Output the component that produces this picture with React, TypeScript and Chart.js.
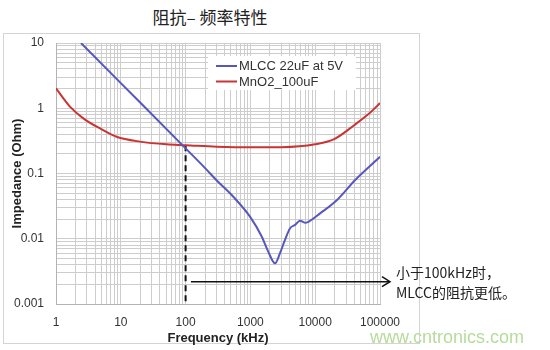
import React, { useEffect, useRef } from "react";
import { Chart, registerables } from "chart.js";

Chart.register(...registerables);

// ---- data ----
const mlccFreq = [2.43, 10, 100, 200, 300, 545, 986, 1494, 1890, 2400, 2860, 3420, 4090, 4880, 5830, 6960, 7830, 11900, 21500, 41100, 100000];
const mlccZ = [10, 2.43, 0.243, 0.121, 0.079, 0.044, 0.0218, 0.0108, 0.0063, 0.0042, 0.006, 0.0096, 0.0145, 0.0163, 0.0189, 0.0176, 0.0182, 0.0245, 0.039, 0.079, 0.18];

const mno2Freq = [1, 1.64, 2.64, 4.77, 8.6, 19.8, 51, 100, 300, 1000, 3000, 10000, 20000, 40000, 70000, 100000];
const mno2Z = [2.02, 1.06, 0.7, 0.49, 0.366, 0.308, 0.28, 0.272, 0.258, 0.252, 0.253, 0.28, 0.34, 0.55, 0.85, 1.2];

const markerFreq = [100, 100];
const markerZ = [0.272, 0.001];

const arrowFreq = [121, 142600];
const arrowZ = [0.0022, 0.0022];

const xTickLabels = ["1", "10", "100", "1000", "10000", "100000"];
const yTickLabels = ["0.001", "0.01", "0.1", "1", "10"];

const seriesLabels = ["MLCC 22uF at 5V", "MnO2_100uF"];
const seriesColors = ["#5757bd", "#c93434"];

const titleText = "阻抗– 频率特性";
const noteLines = ["小于100kHz时，", "MLCC的阻抗更低。"];
const xTitle = "Frequency (kHz)";
const yTitle = "Impedance (Ohm)";

const FONT = "'Liberation Sans', Arial, sans-serif";
const CJK = "'Noto Sans CJK SC', 'Noto Sans', sans-serif";

function decadeGrid(min: number, max: number) {
  const vals: number[] = [];
  const e0 = Math.round(Math.log10(min));
  const e1 = Math.round(Math.log10(max));
  for (let e = e0; e < e1; e++) {
    for (let s = 1; s < 10; s++) vals.push(Number((s * Math.pow(10, e)).toPrecision(6)));
  }
  vals.push(max);
  return vals.map((v) => ({ value: v }));
}

function majorLabel(labels: string[], min: number) {
  return (value: any) => {
    const v = Number(value);
    const l = Math.log10(v);
    if (Math.abs(l - Math.round(l)) < 1e-9) {
      const idx = Math.round(l - Math.log10(min));
      return labels[idx] ?? "";
    }
    return "";
  };
}

const legendPlugin = {
  id: "inlineLegend",
  afterDatasetsDraw(chart: any) {
    const ctx = chart.ctx;
    ctx.save();
    ctx.fillStyle = "#ffffff";
    ctx.fillRect(208, 56, 148, 34);
    const ds = chart.data.datasets.slice(0, 2);
    ds.forEach((d: any, i: number) => {
      const y = 66 + i * 15.5;
      ctx.strokeStyle = d.borderColor;
      ctx.lineWidth = 2;
      ctx.beginPath();
      ctx.moveTo(216, y);
      ctx.lineTo(237, y);
      ctx.stroke();
      ctx.fillStyle = "#333";
      ctx.font = `13px ${FONT}`;
      ctx.textBaseline = "middle";
      ctx.textAlign = "left";
      ctx.fillText(d.label, 239, y + 0.5);
    });
    ctx.restore();
  },
};

const arrowPlugin = {
  id: "arrowHead",
  afterDatasetsDraw(chart: any) {
    const xs = chart.scales.x;
    const ys = chart.scales.y;
    const n = arrowFreq.length - 1;
    const px = xs.getPixelForValue(arrowFreq[n]);
    const py = ys.getPixelForValue(arrowZ[n]);
    const ctx = chart.ctx;
    ctx.save();
    ctx.strokeStyle = "#111";
    ctx.lineWidth = 1.5;
    ctx.beginPath();
    ctx.moveTo(px - 8, py - 5);
    ctx.lineTo(px, py);
    ctx.lineTo(px - 8, py + 5);
    ctx.stroke();
    ctx.restore();
  },
};

export default function App() {
  const ref = useRef<HTMLCanvasElement | null>(null);

  useEffect(() => {
    if (!ref.current) return;
    const toPts = (fx: number[], fy: number[]) => fx.map((x, i) => ({ x, y: fy[i] }));
    const chart = new Chart(ref.current, {
      type: "line",
      data: {
        datasets: [
          {
            label: seriesLabels[0],
            data: toPts(mlccFreq, mlccZ),
            borderColor: seriesColors[0],
            borderWidth: 2,
            pointRadius: 0,
            cubicInterpolationMode: "monotone",
          },
          {
            label: seriesLabels[1],
            data: toPts(mno2Freq, mno2Z),
            borderColor: seriesColors[1],
            borderWidth: 2,
            pointRadius: 0,
            cubicInterpolationMode: "monotone",
          },
          {
            label: "marker",
            data: toPts(markerFreq, markerZ),
            borderColor: "#111",
            borderWidth: 2,
            borderDash: [6, 4],
            pointRadius: 0,
          },
          {
            label: "arrow",
            data: toPts(arrowFreq, arrowZ),
            borderColor: "#111",
            borderWidth: 1.5,
            pointRadius: 0,
            clip: false,
          } as any,
        ],
      },
      options: {
        animation: false,
        responsive: false,
        layout: { padding: { left: 0, top: 43, right: 170, bottom: 0 } },
        plugins: { legend: { display: false }, tooltip: { enabled: false } },
        scales: {
          x: {
            type: "logarithmic",
            min: 1,
            max: 100000,
            afterBuildTicks: (s: any) => {
              s.ticks = decadeGrid(1, 100000);
            },
            afterFit: (s: any) => {
              s.height = 46;
            },
            grid: { color: "#cdcdcd", drawTicks: false },
            border: { color: "#b3b3b3" },
            ticks: {
              autoSkip: false,
              maxRotation: 0,
              padding: 11,
              color: "#333",
              font: { family: FONT, size: 12 },
              callback: majorLabel(xTickLabels, 1),
            },
            title: {
              display: true,
              text: xTitle,
              color: "#222",
              font: { family: FONT, size: 13, weight: "bold" },
              padding: { top: 0, bottom: 4 },
            },
          },
          y: {
            type: "logarithmic",
            min: 0.001,
            max: 10,
            afterBuildTicks: (s: any) => {
              s.ticks = decadeGrid(0.001, 10);
            },
            afterFit: (s: any) => {
              s.width = 56;
            },
            grid: { color: "#cdcdcd", drawTicks: false },
            border: { color: "#b3b3b3" },
            ticks: {
              autoSkip: false,
              padding: 12,
              color: "#333",
              font: { family: FONT, size: 12 },
              callback: majorLabel(yTickLabels, 0.001),
            },
            title: {
              display: true,
              text: yTitle,
              color: "#222",
              font: { family: FONT, size: 13, weight: "bold" },
              padding: { top: 10, bottom: 0 },
            },
          },
        },
      },
      plugins: [legendPlugin, arrowPlugin],
    } as any);
    return () => chart.destroy();
  }, []);

  return (
    <div style={{ position: "absolute", left: 0, top: 0, width: 550, height: 350, background: "#fff", overflow: "hidden" }}>
      <div
        style={{
          position: "absolute",
          left: 3,
          top: 33,
          width: 417,
          height: 311,
          border: "1px solid #d4d4d4",
          boxSizing: "border-box",
        }}
      />
      <div
        style={{
          position: "absolute",
          left: 0,
          width: 420,
          top: 8,
          lineHeight: "18px",
          fontSize: 17,
          fontFamily: CJK,
          color: "#222",
          textAlign: "center",
        }}
      >
        {titleText}
      </div>
      <canvas ref={ref} width={550} height={350} style={{ position: "absolute", left: 0, top: 0, width: 550, height: 350 }} />
      <div
        style={{
          position: "absolute",
          left: 396,
          top: 262,
          fontSize: 14,
          lineHeight: "20px",
          fontFamily: CJK,
          color: "#222",
          whiteSpace: "nowrap",
        }}
      >
        {noteLines.map((l, i) => (
          <div key={i}>{l}</div>
        ))}
      </div>
      <div
        style={{
          position: "absolute",
          left: 370,
          top: 327,
          fontSize: 18,
          lineHeight: "20px",
          fontFamily: FONT,
          color: "#b6dc9c",
          whiteSpace: "nowrap",
        }}
      >
        www.cntronics.com
      </div>
    </div>
  );
}
